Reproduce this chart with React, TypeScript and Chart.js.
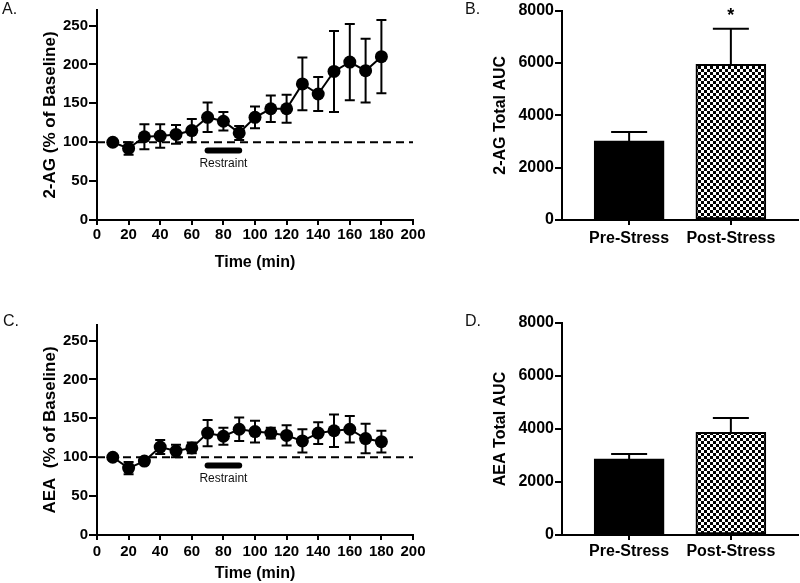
import React, { useEffect, useRef } from "react";
import { Chart, registerables } from "chart.js";

Chart.register(...registerables);

// ---------- data ----------
const timeMin = [10, 20, 30, 40, 50, 60, 70, 80, 90, 100, 110, 120, 130, 140, 150, 160, 170, 180];
const ag2Mean = [100, 92, 107, 108, 110, 115, 132, 127, 112, 132, 143, 143, 175, 162, 191, 203, 192, 210];
const ag2Sem = [0, 8, 16, 15, 12, 15, 19, 12, 9, 14, 17, 18, 34, 22, 52, 49, 41, 47];
const aeaMean = [100, 86, 95, 113, 108, 112, 131, 127, 136, 133, 131, 128, 121, 131, 134, 136, 124, 120];
const aeaSem = [0, 8, 3, 9, 8, 7, 17, 11, 15, 14, 7, 13, 15, 14, 21, 17, 19, 14];
const timeTicks = [0, 20, 40, 60, 80, 100, 120, 140, 160, 180, 200];
const pctTicks = [0, 50, 100, 150, 200, 250];
const baselinePct = 100;
const restraintWindow = [70, 90];
const restraintLabel = "Restraint";

const aucGroups = ["Pre-Stress", "Post-Stress"];
const ag2Auc = [3020, 5950];
const ag2AucSem = [340, 1360];
const ag2Sig = ["", "*"];
const aeaAuc = [2870, 3875];
const aeaAucSem = [190, 540];
const aeaSig = ["", ""];
const aucTicks = [0, 2000, 4000, 6000, 8000];

const FONT = "'Liberation Sans', Arial, Helvetica, sans-serif";

type Box = { w: number; h: number; left: number; right: number; top: number; bottom: number };

function fixedAxes(box: Box) {
  return {
    yFit: (s: any) => { s.width = box.left; },
    xFit: (s: any) => { s.height = box.h - box.bottom; },
  };
}

function makePattern(): CanvasPattern | string {
  const c = document.createElement("canvas");
  c.width = 6; c.height = 6;
  const g = c.getContext("2d");
  if (!g) return "#888";
  g.fillStyle = "#fff"; g.fillRect(0, 0, 6, 6);
  g.fillStyle = "#000"; g.fillRect(0, 0, 3, 3); g.fillRect(3, 3, 3, 3);
  return g.createPattern(c, "repeat") || "#888";
}

function timeCourseConfig(means: number[], sems: number[], yTitle: string, box: Box, tickPad: number, xTitlePad: number) {
  const fit = fixedAxes(box);
  const errPlugin = {
    id: "errbars",
    beforeDatasetsDraw(chart: any) {
      const { ctx } = chart; const xs = chart.scales.x; const ys = chart.scales.y;
      ctx.save(); ctx.strokeStyle = "#000"; ctx.lineWidth = 2;
      timeMin.forEach((t, i) => {
        if (!sems[i]) return;
        const px = xs.getPixelForValue(t);
        const top = ys.getPixelForValue(means[i] + sems[i]);
        const bot = ys.getPixelForValue(means[i] - sems[i]);
        ctx.beginPath();
        ctx.moveTo(px, top); ctx.lineTo(px, bot);
        ctx.moveTo(px - 5, top); ctx.lineTo(px + 5, top);
        ctx.moveTo(px - 5, bot); ctx.lineTo(px + 5, bot);
        ctx.stroke();
      });
      ctx.restore();
    },
    afterDatasetsDraw(chart: any) {
      const { ctx } = chart; const xs = chart.scales.x; const ys = chart.scales.y;
      const y = ys.getPixelForValue(89.5);
      ctx.save();
      ctx.strokeStyle = "#000"; ctx.lineWidth = 6; ctx.lineCap = "round";
      ctx.beginPath();
      ctx.moveTo(xs.getPixelForValue(restraintWindow[0]), y);
      ctx.lineTo(xs.getPixelForValue(restraintWindow[1]), y);
      ctx.stroke();
      ctx.fillStyle = "#111"; ctx.font = `12px ${FONT}`; ctx.textAlign = "center"; ctx.textBaseline = "middle";
      ctx.fillText(restraintLabel, xs.getPixelForValue((restraintWindow[0] + restraintWindow[1]) / 2), y + 13);
      ctx.restore();
    },
  };
  return {
    type: "line",
    data: {
      datasets: [
        {
          data: timeMin.map((t, i) => ({ x: t, y: means[i] })),
          borderColor: "#000", backgroundColor: "#000", borderWidth: 2,
          pointRadius: 6.5, pointBackgroundColor: "#000", pointBorderColor: "#000", pointBorderWidth: 0,
          clip: false,
        },
        {
          data: [{ x: timeTicks[0], y: baselinePct }, { x: timeTicks[timeTicks.length - 1], y: baselinePct }],
          borderColor: "#000", borderWidth: 2, borderDash: [8, 5], pointRadius: 0, clip: false,
        },
      ],
    },
    options: {
      animation: false, responsive: false, maintainAspectRatio: false,
      layout: { padding: { left: 0, right: box.w - box.right, top: box.top, bottom: 0 } },
      plugins: { legend: { display: false }, tooltip: { enabled: false } },
      scales: {
        x: {
          type: "linear", min: timeTicks[0], max: timeTicks[timeTicks.length - 1],
          afterBuildTicks: (s: any) => { s.ticks = timeTicks.map((v) => ({ value: v })); },
          afterFit: fit.xFit,
          border: { display: true, color: "#000", width: 2 },
          grid: { display: true, drawOnChartArea: false, drawTicks: true, tickLength: 5, color: "#000", lineWidth: 2 },
          ticks: { color: "#000", padding: tickPad, maxRotation: 0, autoSkip: false, callback: (v: any) => String(v), font: { family: FONT, size: 15, weight: "bold" } },
          title: { display: true, text: "Time (min)", color: "#000", font: { family: FONT, size: 16, weight: "bold" }, padding: { top: 0, bottom: xTitlePad } },
        },
        y: {
          type: "linear", min: 0, max: 270,
          afterBuildTicks: (s: any) => { s.ticks = pctTicks.map((v) => ({ value: v })); },
          afterFit: fit.yFit,
          border: { display: true, color: "#000", width: 2 },
          grid: { display: true, drawOnChartArea: false, drawTicks: true, tickLength: 8, color: "#000", lineWidth: 2 },
          ticks: { color: "#000", padding: 1, callback: (v: any) => String(v), font: { family: FONT, size: 15, weight: "bold" } },
          title: { display: true, text: yTitle, color: "#000", font: { family: FONT, size: 17, weight: "bold" }, padding: { top: 40, bottom: 0 } },
        },
      },
    },
    plugins: [errPlugin],
  };
}

function aucConfig(vals: number[], sems: number[], sig: string[], yTitle: string, box: Box, tickPad: number) {
  const fit = fixedAxes(box);
  const errPlugin = {
    id: "barerr",
    afterDatasetsDraw(chart: any) {
      const { ctx } = chart; const xs = chart.scales.x; const ys = chart.scales.y;
      ctx.save(); ctx.strokeStyle = "#000"; ctx.lineWidth = 2; ctx.fillStyle = "#000";
      vals.forEach((v, i) => {
        const px = xs.getPixelForValue(i + 1);
        const top = ys.getPixelForValue(v + sems[i]);
        const base = ys.getPixelForValue(v);
        ctx.beginPath();
        ctx.moveTo(px, base); ctx.lineTo(px, top);
        ctx.moveTo(px - 18, top); ctx.lineTo(px + 18, top);
        ctx.stroke();
        if (sig[i]) {
          ctx.font = `bold 18px ${FONT}`; ctx.textAlign = "center"; ctx.textBaseline = "alphabetic";
          ctx.fillText(sig[i], px, top - 8);
        }
      });
      ctx.restore();
    },
  };
  return {
    type: "bar",
    data: {
      datasets: [
        {
          data: vals.map((v, i) => ({ x: i + 1, y: v })),
          backgroundColor: ["#000", makePattern()],
          borderColor: "#000", borderWidth: 2, borderSkipped: false, barThickness: 70,
        },
      ],
    },
    options: {
      animation: false, responsive: false, maintainAspectRatio: false,
      layout: { padding: { left: 0, right: box.w - box.right, top: box.top, bottom: 0 } },
      plugins: { legend: { display: false }, tooltip: { enabled: false } },
      scales: {
        x: {
          type: "linear", min: 0.34, max: 2.66, offset: false,
          afterBuildTicks: (s: any) => { s.ticks = aucGroups.map((_, i) => ({ value: i + 1 })); },
          afterFit: fit.xFit,
          border: { display: true, color: "#000", width: 2 },
          grid: { display: true, offset: false, drawOnChartArea: false, drawTicks: true, tickLength: 5, color: "#000", lineWidth: 2 },
          ticks: { color: "#000", padding: tickPad, maxRotation: 0, autoSkip: false, callback: (v: any) => aucGroups[Math.round(v) - 1] ?? "", font: { family: FONT, size: 16, weight: "bold" } },
        },
        y: {
          type: "linear", min: 0, max: 8000,
          afterBuildTicks: (s: any) => { s.ticks = aucTicks.map((v) => ({ value: v })); },
          afterFit: fit.yFit,
          border: { display: true, color: "#000", width: 2 },
          grid: { display: true, drawOnChartArea: false, drawTicks: true, tickLength: 7, color: "#000", lineWidth: 2 },
          ticks: { color: "#000", padding: 1, callback: (v: any) => String(v), font: { family: FONT, size: 16, weight: "bold" } },
          title: { display: true, text: yTitle, color: "#000", font: { family: FONT, size: 16, weight: "bold" }, padding: { top: 51, bottom: 0 } },
        },
      },
    },
    plugins: [errPlugin],
  };
}

function Panel({ x, y, box, make }: { x: number; y: number; box: Box; make: (b: Box) => any }) {
  const ref = useRef<HTMLCanvasElement>(null);
  useEffect(() => {
    if (!ref.current) return;
    const chart = new Chart(ref.current, make(box));
    return () => chart.destroy();
  }, []);
  return (
    <canvas
      ref={ref}
      width={box.w}
      height={box.h}
      style={{ position: "absolute", left: x, top: y, width: box.w, height: box.h }}
    />
  );
}

const labelStyle = (left: number, top: number): React.CSSProperties => ({
  position: "absolute", left, top, fontFamily: FONT, fontSize: 16, color: "#111", lineHeight: "18px",
});

export default function App() {
  const boxA: Box = { w: 440, h: 300, left: 97, right: 413, top: 10, bottom: 220 };
  const boxB: Box = { w: 360, h: 300, left: 122, right: 358, top: 10, bottom: 220 };
  const boxC: Box = { w: 440, h: 283, left: 97, right: 413, top: 25, bottom: 235 };
  const boxD: Box = { w: 360, h: 283, left: 122, right: 358, top: 23, bottom: 235 };
  return (
    <div style={{ position: "absolute", left: 0, top: 0, width: 800, height: 583, background: "#fff", overflow: "hidden" }}>
      <Panel x={0} y={0} box={boxA} make={(b) => timeCourseConfig(ag2Mean, ag2Sem, "2-AG (% of Baseline)", b, 1, 28)} />
      <Panel x={440} y={0} box={boxB} make={(b) => aucConfig(ag2Auc, ag2AucSem, ag2Sig, "2-AG Total AUC", b, 4)} />
      <Panel x={0} y={300} box={boxC} make={(b) => timeCourseConfig(aeaMean, aeaSem, "AEA  (% of Baseline)", b, 3, 0)} />
      <Panel x={440} y={300} box={boxD} make={(b) => aucConfig(aeaAuc, aeaAucSem, aeaSig, "AEA Total AUC", b, 2)} />
      <div style={labelStyle(2, 0)}>A.</div>
      <div style={labelStyle(465, 0)}>B.</div>
      <div style={labelStyle(3, 312)}>C.</div>
      <div style={labelStyle(465, 312)}>D.</div>
    </div>
  );
}
